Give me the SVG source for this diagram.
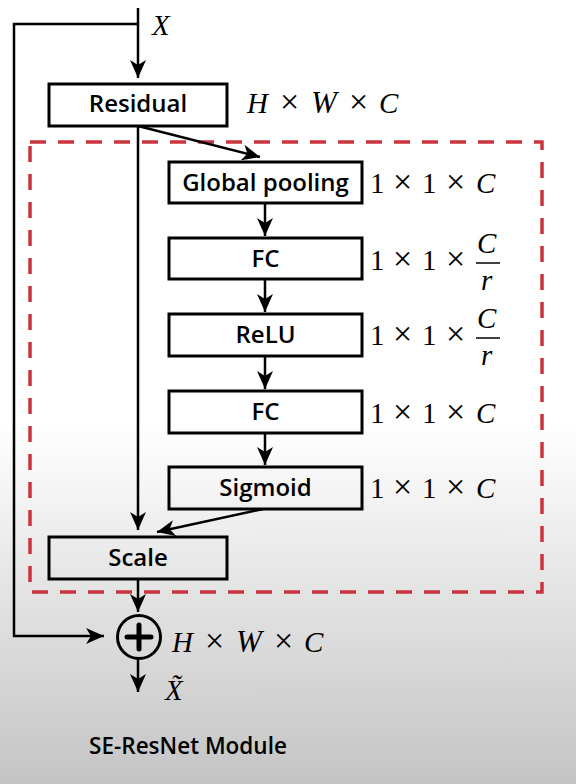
<svg xmlns="http://www.w3.org/2000/svg" width="576" height="784" viewBox="0 0 576 784">
<defs>
<linearGradient id="bg" x1="0" y1="0" x2="0" y2="1">
<stop offset="0" stop-color="#ffffff"/>
<stop offset="0.54" stop-color="#ffffff"/>
<stop offset="1" stop-color="#c4c4c4"/>
</linearGradient>
<marker id="ah" viewBox="0 0 18 16" refX="18" refY="8" markerWidth="18" markerHeight="16" markerUnits="userSpaceOnUse" orient="auto">
<path d="M0,0 L18,8 L0,16 L5,8 Z" fill="#000"/>
</marker>
<style>
.box{fill:none;stroke:#000;stroke-width:3}
.lbl{font-family:"Open Sans","Noto Sans",sans-serif;font-weight:600;font-size:24px;text-anchor:middle;fill:#000}
.math{font-family:"Liberation Serif","DejaVu Serif",serif;font-size:29px;fill:#000}
.it{font-style:italic}
.x{font-size:34px}
.w{font-size:31px}
.con{fill:none;stroke:#000;stroke-width:2.5}
</style>
</defs>
<rect x="0" y="0" width="576" height="784" fill="url(#bg)"/>
<rect x="30" y="142" width="512" height="450" fill="none" stroke="#c9343e" stroke-width="3.5" stroke-dasharray="16 12"/>
<g id="connectors">
<line class="con" x1="138" y1="8" x2="138" y2="78" marker-end="url(#ah)"/>
<polyline class="con" points="138,24 14,24 14,636 104,636" marker-end="url(#ah)"/>
<line class="con" x1="138" y1="126" x2="260" y2="157" marker-end="url(#ah)"/>
<line class="con" x1="138" y1="126" x2="138" y2="530" marker-end="url(#ah)"/>
<line class="con" x1="265" y1="203" x2="265" y2="236" marker-end="url(#ah)"/>
<line class="con" x1="265" y1="279" x2="265" y2="312" marker-end="url(#ah)"/>
<line class="con" x1="265" y1="356" x2="265" y2="389" marker-end="url(#ah)"/>
<line class="con" x1="265" y1="433" x2="265" y2="465" marker-end="url(#ah)"/>
<line class="con" x1="263" y1="509" x2="157" y2="532" marker-end="url(#ah)"/>
<line class="con" x1="138" y1="580" x2="138" y2="612" marker-end="url(#ah)"/>
<line class="con" x1="138" y1="659" x2="138" y2="692" marker-end="url(#ah)"/>
</g>
<g id="input-label"><text class="math it" x="152" y="35">X</text></g>
<g id="residual">
<rect class="box" x="49" y="84" width="178" height="42"/>
<text class="lbl" x="138" y="112">Residual</text>
<text class="math" y="113"><tspan class="it" x="247">H</tspan><tspan class="x" x="280">×</tspan><tspan class="it w" x="311">W</tspan><tspan class="x" x="349">×</tspan><tspan class="it" x="379">C</tspan></text>
</g>
<g id="global-pooling">
<rect class="box" x="169" y="162" width="193" height="41"/>
<text class="lbl" x="265.5" y="191">Global pooling</text>
<text class="math" y="193"><tspan x="370">1</tspan><tspan class="x" x="393">×</tspan><tspan x="422">1</tspan><tspan class="x" x="446">×</tspan><tspan class="it" x="476">C</tspan></text>
</g>
<g id="fc1">
<rect class="box" x="169" y="238" width="193" height="41"/>
<text class="lbl" x="265.5" y="267">FC</text>
<text class="math" y="270"><tspan x="370">1</tspan><tspan class="x" x="393">×</tspan><tspan x="422">1</tspan><tspan class="x" x="446">×</tspan></text>
<text class="math it" x="477" y="253">C</text>
<line x1="476" y1="263" x2="500" y2="263" stroke="#000" stroke-width="1.5"/>
<text class="math it" x="481" y="290">r</text>
</g>
<g id="relu">
<rect class="box" x="169" y="314" width="193" height="42"/>
<text class="lbl" x="265.5" y="343">ReLU</text>
<text class="math" y="345"><tspan x="370">1</tspan><tspan class="x" x="393">×</tspan><tspan x="422">1</tspan><tspan class="x" x="446">×</tspan></text>
<text class="math it" x="477" y="328">C</text>
<line x1="476" y1="338" x2="500" y2="338" stroke="#000" stroke-width="1.5"/>
<text class="math it" x="481" y="365">r</text>
</g>
<g id="fc2">
<rect class="box" x="169" y="391" width="193" height="42"/>
<text class="lbl" x="265.5" y="420">FC</text>
<text class="math" y="423"><tspan x="370">1</tspan><tspan class="x" x="393">×</tspan><tspan x="422">1</tspan><tspan class="x" x="446">×</tspan><tspan class="it" x="476">C</tspan></text>
</g>
<g id="sigmoid">
<rect class="box" x="169" y="467" width="193" height="42"/>
<text class="lbl" x="265.5" y="496">Sigmoid</text>
<text class="math" y="498"><tspan x="370">1</tspan><tspan class="x" x="393">×</tspan><tspan x="422">1</tspan><tspan class="x" x="446">×</tspan><tspan class="it" x="476">C</tspan></text>
</g>
<g id="scale">
<rect class="box" x="49" y="537" width="178" height="42"/>
<text class="lbl" x="138" y="566">Scale</text>
</g>
<g id="sum">
<circle cx="139" cy="637" r="21.5" fill="none" stroke="#000" stroke-width="3"/>
<line x1="127" y1="637" x2="151" y2="637" stroke="#000" stroke-width="5" stroke-linecap="round"/>
<line x1="139" y1="625" x2="139" y2="649" stroke="#000" stroke-width="5" stroke-linecap="round"/>
<text class="math" y="652"><tspan class="it" x="172">H</tspan><tspan class="x" x="205">×</tspan><tspan class="it w" x="236">W</tspan><tspan class="x" x="274">×</tspan><tspan class="it" x="304">C</tspan></text>
</g>
<g id="output-label">
<text class="math it" x="165" y="700">X̃</text>
</g>
<text x="188" y="754" font-family="Open Sans, Noto Sans, sans-serif" font-weight="600" font-size="22.5" text-anchor="middle" fill="#000">SE-ResNet Module</text>
</svg>
